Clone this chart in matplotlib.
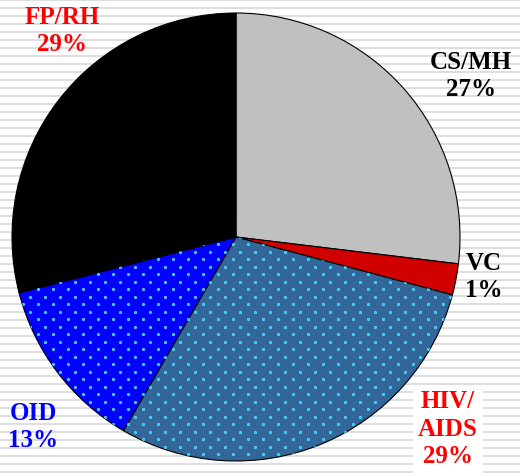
import matplotlib.pyplot as plt
import numpy as np

# slices clockwise from 12 o'clock
labels = ['CS/MH\n27%', 'VC\n1%', 'HIV/\nAIDS\n29%', 'OID\n13%', 'FP/RH\n29%']
shares = [26.9, 2.25, 29.2, 12.6, 29.0]
colors = ['#c0c0c0', '#d00000', '#336699', '#0000ff', '#000000']
label_colors = ['black', 'black', '#ff0000', '#0000ff', '#ff0000']
dotted = [False, False, True, True, False]

W, H = 520, 476
cx, cy, r = 236, H - 237, 224
# label centres in pixel coords (y from the bottom)
label_xy = [(471, H - 76), (484, H - 277), (448, H - 429), (33, H - 427), (62, H - 31)]

fig = plt.figure(figsize=(W / 100, H / 100), dpi=100)
ax = fig.add_axes([0, 0, 1, 1])

# striped backdrop
ax.add_patch(plt.Rectangle((0, 0), W, H, color='white', zorder=0))
for yt in np.arange(-1, H, 8.0):
    ax.axhspan(H - yt - 2.3, H - yt, color='#dedede', lw=0, zorder=0.5)

wedges, _ = ax.pie(shares, colors=colors, startangle=90, counterclock=False,
                   center=(cx, cy), radius=r,
                   wedgeprops=dict(edgecolor='black', linewidth=0.8))

# cyan dot texture on the two blue slices
gx, gy = [], []
for j in range(-40, 40):
    for i in range(-40, 40):
        gx.append(202.7 + 15 * i)
        gy.append(H - (259.3 + 15 * j))
        gx.append(210.2 + 15 * i)
        gy.append(H - (266.8 + 15 * j))
gx, gy = np.array(gx), np.array(gy)
keep = (gx > cx - r - 10) & (gx < cx + r + 10) & (gy > cy - r - 10) & (gy < cy + r + 10)
for w, d in zip(wedges, dotted):
    if d:
        sc = ax.scatter(gx[keep], gy[keep], s=5, color='#66ddff', lw=0, zorder=3)
        sc.set_clip_path(w)
        sc2 = ax.scatter(gx[keep], gy[keep], s=1.5, color='#00ccff', lw=0, zorder=3)
        sc2.set_clip_path(w)

for lab, (tx, ty), c in zip(labels, label_xy, label_colors):
    kw = {}
    if lab.startswith('HIV'):
        kw['bbox'] = dict(facecolor='white', edgecolor='none', pad=4)
    ax.text(tx, ty, lab, ha='center', va='center', color=c, fontsize=18,
            fontweight='bold', family='Liberation Serif', linespacing=1.25,
            zorder=5, **kw)

ax.set_xlim(0, W)
ax.set_ylim(0, H)
ax.set_aspect('auto')
ax.axis('off')
fig.savefig('out.png', dpi=100)
